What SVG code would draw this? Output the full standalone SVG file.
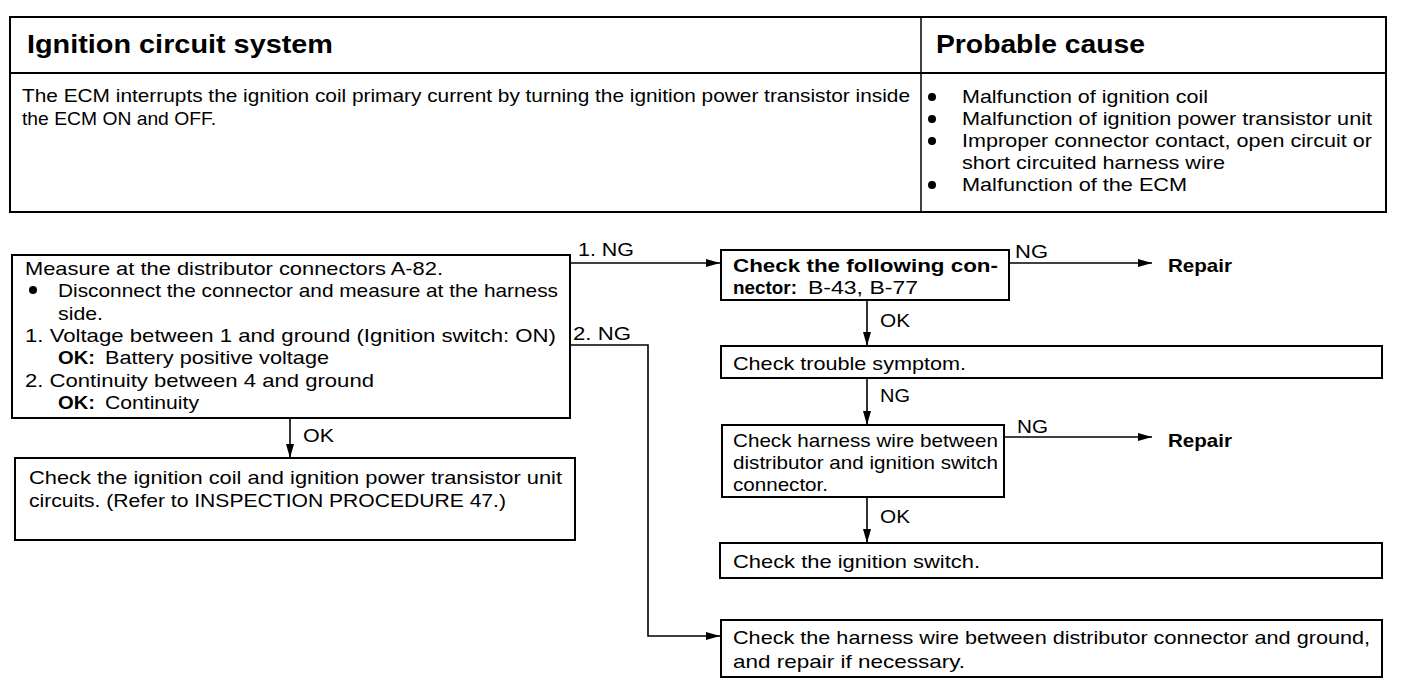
<svg xmlns="http://www.w3.org/2000/svg" width="1408" height="696" viewBox="0 0 1408 696">
<style>
text{font-family:"Liberation Sans",Arial,sans-serif;font-size:19px;fill:#000}
.h{font-size:25px;font-weight:bold}
.b{font-weight:bold}
.box{fill:#fff;stroke:#000;stroke-width:2}
.ln{fill:none;stroke:#000;stroke-width:1.6}
</style>
<defs>
<marker id="ah" viewBox="0 0 14 8" refX="14" refY="4" markerWidth="14" markerHeight="8" markerUnits="userSpaceOnUse" orient="auto">
<path d="M0,0 L14,4 L0,8 Z" fill="#000"/>
</marker>
</defs>
<rect width="1408" height="696" fill="#fff"/>

<g id="table">
<rect x="10" y="17" width="1376" height="195" class="box" stroke-width="2.5"/>
<line x1="10" y1="73" x2="1386" y2="73" stroke="#000" stroke-width="2"/>
<line x1="921" y1="17" x2="921" y2="212" stroke="#000" stroke-width="1.5"/>
<text x="27" y="53" class="h" textLength="306" lengthAdjust="spacingAndGlyphs">Ignition circuit system</text>
<text x="936" y="53" class="h" textLength="209" lengthAdjust="spacingAndGlyphs">Probable cause</text>
<text x="22" y="102" textLength="888" lengthAdjust="spacingAndGlyphs">The ECM interrupts the ignition coil primary current by turning the ignition power transistor inside</text>
<text x="22" y="125" textLength="194" lengthAdjust="spacingAndGlyphs">the ECM ON and OFF.</text>
<circle cx="932" cy="97" r="4"/>
<circle cx="932" cy="119" r="4"/>
<circle cx="932" cy="141" r="4"/>
<circle cx="932" cy="185" r="4"/>
<text x="962" y="103" textLength="246" lengthAdjust="spacingAndGlyphs">Malfunction of ignition coil</text>
<text x="962" y="125" textLength="410" lengthAdjust="spacingAndGlyphs">Malfunction of ignition power transistor unit</text>
<text x="962" y="147" textLength="410" lengthAdjust="spacingAndGlyphs">Improper connector contact, open circuit or</text>
<text x="962" y="169" textLength="263" lengthAdjust="spacingAndGlyphs">short circuited harness wire</text>
<text x="962" y="191" textLength="225" lengthAdjust="spacingAndGlyphs">Malfunction of the ECM</text>
</g>

<g id="connectors">
<line x1="570" y1="263" x2="720" y2="263" class="ln" marker-end="url(#ah)"/>
<polyline points="570,345 648,345 648,636 720,636" class="ln" marker-end="url(#ah)"/>
<line x1="290" y1="418" x2="290" y2="458" class="ln" marker-end="url(#ah)"/>
<line x1="1009" y1="263" x2="1152" y2="263" class="ln" marker-end="url(#ah)"/>
<line x1="867" y1="300" x2="867" y2="346" class="ln" marker-end="url(#ah)"/>
<line x1="867" y1="378" x2="867" y2="425" class="ln" marker-end="url(#ah)"/>
<line x1="1004" y1="437" x2="1152" y2="437" class="ln" marker-end="url(#ah)"/>
<line x1="867" y1="497" x2="867" y2="543" class="ln" marker-end="url(#ah)"/>
<text x="578" y="256" textLength="56" lengthAdjust="spacingAndGlyphs">1. NG</text>
<text x="573" y="340" textLength="58" lengthAdjust="spacingAndGlyphs">2. NG</text>
<text x="303" y="442" textLength="31" lengthAdjust="spacingAndGlyphs">OK</text>
<text x="1015" y="258" textLength="33" lengthAdjust="spacingAndGlyphs">NG</text>
<text x="880" y="327" textLength="30" lengthAdjust="spacingAndGlyphs">OK</text>
<text x="880" y="402" textLength="30" lengthAdjust="spacingAndGlyphs">NG</text>
<text x="1017" y="433" textLength="31" lengthAdjust="spacingAndGlyphs">NG</text>
<text x="880" y="523" textLength="30" lengthAdjust="spacingAndGlyphs">OK</text>
</g>

<g id="n-measure">
<rect x="12" y="255" width="558" height="163" class="box"/>
<text x="25" y="275" textLength="418" lengthAdjust="spacingAndGlyphs">Measure at the distributor connectors A-82.</text>
<circle cx="33" cy="290" r="4"/>
<text x="58" y="297" textLength="500" lengthAdjust="spacingAndGlyphs">Disconnect the connector and measure at the harness</text>
<text x="58" y="320" textLength="45" lengthAdjust="spacingAndGlyphs">side.</text>
<text x="25" y="342" textLength="531" lengthAdjust="spacingAndGlyphs">1. Voltage between 1 and ground (Ignition switch: ON)</text>
<text x="58" y="364" class="b" textLength="37" lengthAdjust="spacingAndGlyphs">OK:</text>
<text x="105" y="364" textLength="224" lengthAdjust="spacingAndGlyphs">Battery positive voltage</text>
<text x="25" y="387" textLength="349" lengthAdjust="spacingAndGlyphs">2. Continuity between 4 and ground</text>
<text x="58" y="409" class="b" textLength="37" lengthAdjust="spacingAndGlyphs">OK:</text>
<text x="105" y="409" textLength="94" lengthAdjust="spacingAndGlyphs">Continuity</text>
</g>

<g id="n-coil">
<rect x="15" y="458" width="560" height="82" class="box"/>
<text x="29" y="484" textLength="533" lengthAdjust="spacingAndGlyphs">Check the ignition coil and ignition power transistor unit</text>
<text x="29" y="507" textLength="477" lengthAdjust="spacingAndGlyphs">circuits. (Refer to INSPECTION PROCEDURE 47.)</text>
</g>

<g id="n-connector">
<rect x="721" y="250" width="288" height="50" class="box"/>
<text x="733" y="272" class="b" textLength="265" lengthAdjust="spacingAndGlyphs">Check the following con-</text>
<text x="733" y="294" class="b" textLength="64" lengthAdjust="spacingAndGlyphs">nector:</text>
<text x="808" y="294" textLength="110" lengthAdjust="spacingAndGlyphs">B-43, B-77</text>
</g>

<g id="n-repair1">
<text x="1168" y="272" class="b" textLength="64" lengthAdjust="spacingAndGlyphs">Repair</text>
</g>

<g id="n-symptom">
<rect x="721" y="346" width="661" height="32" class="box"/>
<text x="733" y="370" textLength="233" lengthAdjust="spacingAndGlyphs">Check trouble symptom.</text>
</g>

<g id="n-harness">
<rect x="722" y="425" width="282" height="72" class="box"/>
<text x="733" y="447" textLength="265" lengthAdjust="spacingAndGlyphs">Check harness wire between</text>
<text x="733" y="469" textLength="265" lengthAdjust="spacingAndGlyphs">distributor and ignition switch</text>
<text x="733" y="491" textLength="95" lengthAdjust="spacingAndGlyphs">connector.</text>
</g>

<g id="n-repair2">
<text x="1168" y="447" class="b" textLength="64" lengthAdjust="spacingAndGlyphs">Repair</text>
</g>

<g id="n-switch">
<rect x="720" y="543" width="662" height="35" class="box"/>
<text x="733" y="568" textLength="247" lengthAdjust="spacingAndGlyphs">Check the ignition switch.</text>
</g>

<g id="n-ground">
<rect x="721" y="620" width="661" height="57" class="box"/>
<text x="733" y="644" textLength="637" lengthAdjust="spacingAndGlyphs">Check the harness wire between distributor connector and ground,</text>
<text x="733" y="668" textLength="232" lengthAdjust="spacingAndGlyphs">and repair if necessary.</text>
</g>
</svg>
